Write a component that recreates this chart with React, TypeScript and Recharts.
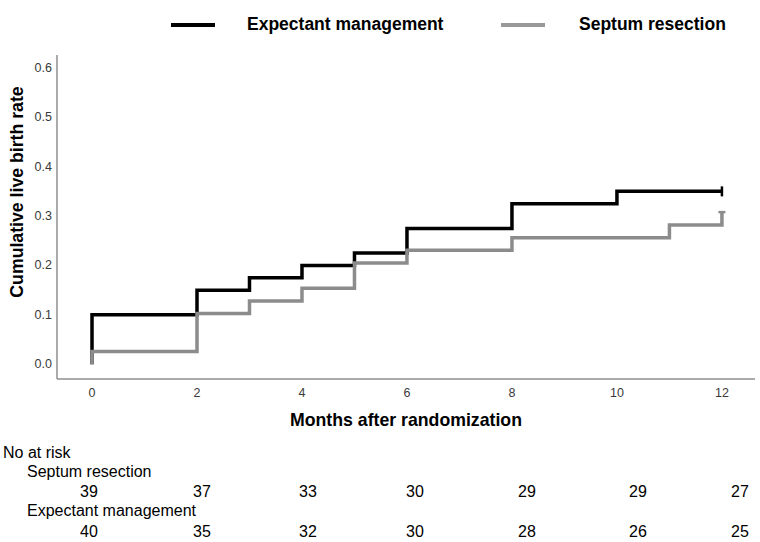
import React from "react";
import { LineChart, Line, XAxis, YAxis, Legend } from "recharts";

// Kaplan-Meier style cumulative live birth data
const expectantTimes = [0, 0, 2, 3, 4, 5, 6, 8, 10, 12];
const expectantRate = [0, 0.1, 0.15, 0.175, 0.2, 0.225, 0.275, 0.325, 0.35, 0.35];
const septumTimes = [0, 0, 2, 3, 4, 5, 6, 8, 11, 12];
const septumRate = [0, 0.026, 0.103, 0.128, 0.154, 0.205, 0.231, 0.256, 0.282, 0.308];

const xTicks = [0, 2, 4, 6, 8, 10, 12];
const yTicks = [0, 0.1, 0.2, 0.3, 0.4, 0.5, 0.6];

const seriesNames = ["Expectant management", "Septum resection"];

const riskGroups = ["Septum resection", "Expectant management"];
const riskSeptum = [39, 37, 33, 30, 29, 29, 27];
const riskExpectant = [40, 35, 32, 30, 28, 26, 25];

const expectantData = expectantTimes.map((t, i) => ({ t, v: expectantRate[i] }));
const septumData = septumTimes.map((t, i) => ({ t, v: septumRate[i] }));

const FONT = "'Liberation Sans', Arial, sans-serif";
const BLACK = "#000000";
const GRAY = "#8c8c8c";
const TICK_COLOR = "#3a3a3a";

const BlackCensor = (props: any) => {
  const { cx, cy, index } = props;
  if (index !== expectantData.length - 1) return <g key={`b${index}`} />;
  return <line key={`b${index}`} x1={cx} x2={cx} y1={cy - 5} y2={cy + 5} stroke={BLACK} strokeWidth={2.5} />;
};

const GrayCensor = (props: any) => {
  const { cx, cy, index } = props;
  if (index !== septumData.length - 1) return <g key={`g${index}`} />;
  return <line key={`g${index}`} x1={cx - 3.5} x2={cx + 3.5} y1={cy} y2={cy} stroke={GRAY} strokeWidth={2.5} />;
};

const XTick = (props: any) => {
  const { x, y, payload } = props;
  return (
    <text x={x} y={y} dy={9} textAnchor="middle" fontSize={12.5} fill={TICK_COLOR} fontFamily={FONT} dominantBaseline="hanging">
      {payload.value}
    </text>
  );
};

const YTick = (props: any) => {
  const { x, y, payload } = props;
  return (
    <text x={x} y={y} textAnchor="end" dominantBaseline="central" fontSize={12.5} fill={TICK_COLOR} fontFamily={FONT}>
      {Number(payload.value).toFixed(1)}
    </text>
  );
};

const LegendContent = () => (
  <div style={{ position: "relative", width: 760, height: 50, fontFamily: FONT }}>
    <div style={{ position: "absolute", left: 171, top: 23, width: 44, height: 4, background: BLACK }} />
    <div style={{ position: "absolute", left: 247, top: 14, fontSize: 17.5, fontWeight: 700, lineHeight: "20px", color: "#000", whiteSpace: "nowrap" }}>{seriesNames[0]}</div>
    <div style={{ position: "absolute", left: 501, top: 23, width: 44, height: 4, background: "#999999" }} />
    <div style={{ position: "absolute", left: 579, top: 14, fontSize: 17.5, fontWeight: 700, lineHeight: "20px", color: "#000", whiteSpace: "nowrap" }}>{seriesNames[1]}</div>
  </div>
);

const numX = [89, 202, 308, 415, 527, 638, 740];

export default function App() {
  return (
    <div style={{ position: "absolute", left: 0, top: 0, width: 760, height: 542, background: "#fff", fontFamily: FONT }}>
      <LineChart width={760} height={542} margin={{ top: 5, right: 5, bottom: 133, left: 0 }}>
        <XAxis
          type="number"
          dataKey="t"
          domain={[-0.667, 12.63]}
          ticks={xTicks}
          allowDataOverflow
          tickLine={false}
          tickSize={0}
          tickMargin={0}
          height={30}
          axisLine={{ stroke: "#8f8f8f", strokeWidth: 1.5 }}
          tick={<XTick />}
          label={{ value: "Months after randomization", position: "bottom", offset: 0, content: () => (
            <text x={406} y={426} textAnchor="middle" fontSize={17.7} fontWeight={700} fill="#000" fontFamily={FONT}>Months after randomization</text>
          ) }}
        />
        <YAxis
          type="number"
          dataKey="v"
          domain={[-0.0298, 0.626]}
          ticks={yTicks}
          allowDataOverflow
          width={57}
          tickLine={false}
          tickSize={0}
          tickMargin={5}
          axisLine={{ stroke: "#8f8f8f", strokeWidth: 1.5 }}
          tick={<YTick />}
          label={{ value: "Cumulative live birth rate", content: () => (
            <text x={17} y={192} transform="rotate(-90 17 192)" textAnchor="middle" dominantBaseline="central" fontSize={17.7} fontWeight={700} fill="#000" fontFamily={FONT}>Cumulative live birth rate</text>
          ) }}
        />
        <Legend verticalAlign="top" wrapperStyle={{ position: "absolute", top: 0, left: 0, width: 760, height: 50 }} content={() => <LegendContent />} />
        <Line
          data={expectantData}
          dataKey="v"
          name={seriesNames[0]}
          type="stepAfter"
          stroke={BLACK}
          strokeWidth={3.5}
          dot={BlackCensor}
          activeDot={false}
          isAnimationActive={false}
        />
        <Line
          data={septumData}
          dataKey="v"
          name={seriesNames[1]}
          type="stepAfter"
          stroke={GRAY}
          strokeWidth={3.5}
          dot={GrayCensor}
          activeDot={false}
          isAnimationActive={false}
        />
      </LineChart>
      <div style={{ position: "absolute", left: 3, top: 445, fontSize: 16, lineHeight: "16px", color: "#000", whiteSpace: "nowrap" }}>No at risk</div>
      <div style={{ position: "absolute", left: 27, top: 464, fontSize: 16, lineHeight: "16px", color: "#000", whiteSpace: "nowrap" }}>{riskGroups[0]}</div>
      {riskSeptum.map((n, i) => (
        <div key={`s${i}`} style={{ position: "absolute", left: numX[i], top: 484, transform: "translateX(-50%)", fontSize: 16, lineHeight: "16px", color: "#000" }}>{n}</div>
      ))}
      <div style={{ position: "absolute", left: 27, top: 503, fontSize: 16, lineHeight: "16px", color: "#000", whiteSpace: "nowrap" }}>{riskGroups[1]}</div>
      {riskExpectant.map((n, i) => (
        <div key={`e${i}`} style={{ position: "absolute", left: numX[i], top: 524, transform: "translateX(-50%)", fontSize: 16, lineHeight: "16px", color: "#000" }}>{n}</div>
      ))}
    </div>
  );
}
